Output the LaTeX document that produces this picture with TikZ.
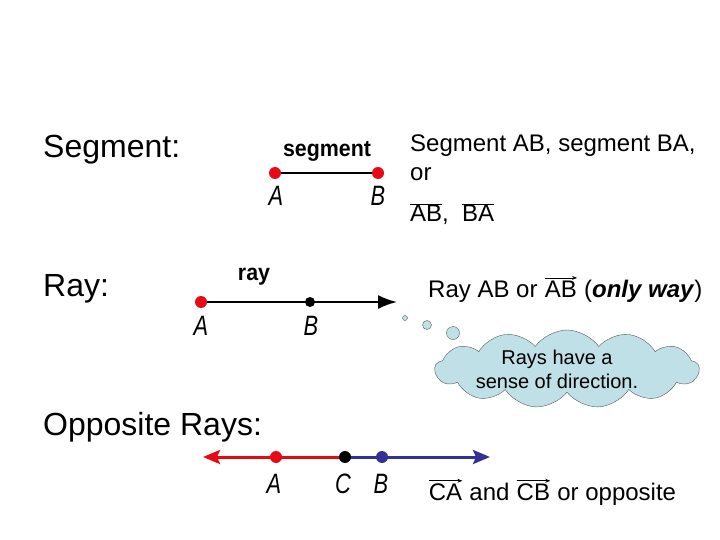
\documentclass[tikz,border=0pt]{standalone}
\usepackage{fontspec}
\setmainfont{Liberation Sans}
\newfontfamily\condfont[FakeStretch=0.78]{Liberation Sans}
\newfontfamily\tagfont[FakeStretch=0.93]{Liberation Sans}
\usepackage{tikz}
\usetikzlibrary{positioning,arrows.meta,shapes.symbols}
\definecolor{ptred}{RGB}{230,10,20}
\definecolor{ptblue}{RGB}{50,50,150}
\definecolor{cloudblue}{RGB}{190,224,230}
\newcommand{\ovl}[1]{\ensuremath{\overline{\mbox{#1}}}}
\newcommand{\vect}[1]{\tikz[baseline=(v.base),x=1cm,y=1cm]{%
  \node[inner sep=0pt] (v) {#1};
  \draw[line width=0.8pt,-{Stealth[length=5pt,width=4pt]}]
    ([yshift=2.5pt]v.north west) -- ([yshift=2.5pt]v.north east);}}

\begin{document}
\begin{tikzpicture}[x=1pt,y=-1pt,
    title/.style={anchor=west,inner sep=0pt,font=\fontsize{32}{38}\selectfont},
    note/.style={anchor=west,inner sep=0pt,font=\fontsize{24}{28}\selectfont},
    ptlabel/.style={inner sep=0pt,font=\condfont\itshape\fontsize{28}{30}\selectfont},
    tag/.style={inner sep=0pt,font=\tagfont\bfseries\fontsize{23}{26}\selectfont},
    dot/.style={circle,inner sep=0pt,minimum size=12pt,fill=#1}]
  \useasboundingbox (0,0) rectangle (720,540);

  % segment
  \node[title] (segtitle) at (43,150) {Segment:};
  \node[dot=ptred] (segA) at (275,173) {};
  \node[dot=ptred] (segB) at (378,173) {};
  \draw[line width=2pt] (segA) -- (segB);
  \node[tag] (segtag) at (327,151) {segment};
  \node[ptlabel] (segAl) at (276,196) {A};
  \node[ptlabel] (segBl) at (378,196) {B};
  \node[note] (segtxt1) at (410,146) {Segment AB, segment BA,};
  \node[note] (segtxt2) at (410,174) {or};
  \node[note] (segtxt3) at (410,214) {\ovl{AB},\ \ \ovl{BA}};

  % ray
  \node[title] (raytitle) at (43,289) {Ray:};
  \node[dot=ptred] (rayA) at (201,302) {};
  \node[dot=black,minimum size=10pt] (rayB) at (310,302) {};
  \coordinate (rayend) at (397,302);
  \draw[line width=2pt,-{Latex[length=19pt,width=14pt]}] (rayA) -- (rayend);
  \node[tag] (raytag) at (254,277) {ray};
  \node[ptlabel] (rayAl) at (201,326) {A};
  \node[ptlabel] (rayBl) at (311,326) {B};
  \node[note] (raytxt) at (428,289) {Ray AB or \vect{AB} (\textbf{\textit{only way}})};

  % thought cloud
  \draw[gray!70!black,fill=cloudblue] (405,318) circle (2.5pt);
  \draw[gray!70!black,fill=cloudblue] (427,325) circle (4.5pt);
  \draw[gray!70!black,fill=cloudblue] (453,333) circle (6.5pt);
  \node[cloud,cloud puffs=13,cloud puff arc=110,cloud ignores aspect,
        draw=gray!70!black,fill=cloudblue,
        minimum width=264pt,minimum height=78pt,inner sep=0pt] (cloud) at (567,369) {};
  \node[align=center,inner sep=0pt,font=\fontsize{20}{24}\selectfont] (cloudtxt)
        at ([xshift=-10pt]cloud.center) {Rays have a\\sense of direction.};

  % opposite rays
  \node[title] (opptitle) at (43,427) {Opposite Rays:};
  \coordinate (oppL) at (203,457);
  \coordinate (oppR) at (490,457);
  \coordinate (oppCpos) at (345,457);
  \draw[ptred,line width=3pt,-{Stealth[length=17pt,width=14pt,inset=3pt]}] (oppCpos) -- (oppL);
  \draw[ptblue,line width=3pt,-{Stealth[length=17pt,width=14pt,inset=3pt]}] (oppCpos) -- (oppR);
  \node[dot=ptred] (oppA) at (276,457) {};
  \node[dot=black] (oppC) at (oppCpos) {};
  \node[dot=ptblue] (oppB) at (382,457) {};
  \node[ptlabel] (oppAl) at (274,484) {A};
  \node[ptlabel] (oppCl) at (343,484) {C};
  \node[ptlabel] (oppBl) at (381,484) {B};
  \node[note] (opptxt) at (428,492) {\vect{CA} and \vect{CB} or opposite};
\end{tikzpicture}
\end{document}
